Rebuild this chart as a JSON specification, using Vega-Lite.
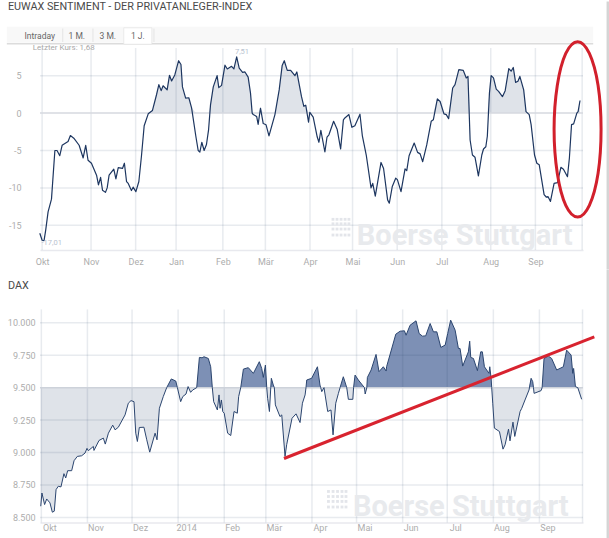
{
  "$schema": "https://vega.github.io/schema/vega-lite/v6.json",
  "padding": {"left": 3, "top": 0, "right": 0, "bottom": 0},
  "background": "white",
  "spacing": -2.6,
  "config": {
    "view": {"stroke": null},
    "font": "Roboto",
    "axis": {"title": null, "ticks": false, "domain": false, "grid": false, "labelColor": "#adadad", "labelFont": "Roboto", "labelFontSize": 9}
  },
  "datasets": {
    "sentiment": [
      {"t":-1.1,"v":-16.07},{"t":0,"v":-17},{"t":0.9,"v":-17.05},{"t":1.7,"v":-15.6},{"t":2.8,"v":-13.2},{"t":4.4,"v":-11.5},{"t":6,"v":-5},{"t":7,"v":-5},{"t":8.3,"v":-5.7},{"t":9.4,"v":-4.3},{"t":12.2,"v":-3.8},{"t":13.3,"v":-3},{"t":14.9,"v":-3.35},{"t":17.4,"v":-4.3},{"t":19.3,"v":-6},{"t":20.5,"v":-4.3},{"t":21.6,"v":-6.3},{"t":23.2,"v":-6.7},{"t":25.6,"v":-8.3},{"t":26.5,"v":-9.6},{"t":27.5,"v":-8.6},{"t":28.4,"v":-10.3},{"t":29.8,"v":-10.6},{"t":30.6,"v":-10},{"t":31.5,"v":-8.3},{"t":33.7,"v":-7.5},{"t":34.7,"v":-8.8},{"t":35.8,"v":-7.3},{"t":37.8,"v":-7.4},{"t":38.7,"v":-6.7},{"t":39.7,"v":-9.15},{"t":40.5,"v":-9.4},{"t":42,"v":-10.35},{"t":42.8,"v":-9.9},{"t":44.1,"v":-10.5},{"t":45.5,"v":-9.15},{"t":46.7,"v":-5.8},{"t":48,"v":-1.7},{"t":49.9,"v":-0.1},{"t":51.9,"v":0.35},{"t":53.8,"v":2.45},{"t":54.9,"v":3.8},{"t":56,"v":3},{"t":56.9,"v":3.65},{"t":58.8,"v":3.1},{"t":59.9,"v":5.05},{"t":60.9,"v":4.3},{"t":62.4,"v":5.1},{"t":64.2,"v":7},{"t":65.3,"v":6.5},{"t":66,"v":3.5},{"t":67.5,"v":2},{"t":69,"v":2.05},{"t":70.3,"v":0.7},{"t":72.3,"v":-3.1},{"t":73.4,"v":-5},{"t":74.2,"v":-5.2},{"t":75.1,"v":-3.9},{"t":76.2,"v":-5},{"t":77.3,"v":-4.2},{"t":78.3,"v":-2.2},{"t":79.2,"v":1.1},{"t":80.5,"v":3.5},{"t":82.3,"v":5},{"t":83.1,"v":3.4},{"t":84.4,"v":3.7},{"t":86,"v":6.4},{"t":87.1,"v":5.9},{"t":89.1,"v":6.25},{"t":90.2,"v":5.9},{"t":91.5,"v":7.51},{"t":92.7,"v":6},{"t":94.3,"v":5.45},{"t":95.4,"v":5.5},{"t":96.9,"v":4.8},{"t":98,"v":2.7},{"t":98.8,"v":0},{"t":99.3,"v":-0.2},{"t":100.9,"v":-0.45},{"t":101.6,"v":-1.5},{"t":102.7,"v":0.65},{"t":104,"v":-1.4},{"t":105.3,"v":-1.55},{"t":106.7,"v":-3.05},{"t":109.5,"v":-0.2},{"t":111.5,"v":3.1},{"t":112.9,"v":6.35},{"t":113.9,"v":7},{"t":115.3,"v":5.7},{"t":116.9,"v":5.7},{"t":118.9,"v":5},{"t":119.8,"v":5.5},{"t":122,"v":2.2},{"t":123.1,"v":0.9},{"t":124,"v":1.05},{"t":125.3,"v":-1.2},{"t":125.9,"v":0.1},{"t":127.5,"v":-0.55},{"t":129.4,"v":-3.2},{"t":130.2,"v":-3.9},{"t":131.1,"v":-2.3},{"t":133,"v":-5.2},{"t":134,"v":-3.2},{"t":134.9,"v":-2.9},{"t":137.1,"v":-1.1},{"t":138.8,"v":-2.2},{"t":140.4,"v":-4.8},{"t":141.7,"v":-0.9},{"t":142.4,"v":-0.65},{"t":144.3,"v":-0.2},{"t":145.7,"v":-1.9},{"t":147.1,"v":-1.7},{"t":149.5,"v":-0.15},{"t":150.6,"v":-3},{"t":152.5,"v":-5.7},{"t":154.7,"v":-10},{"t":155.5,"v":-9.4},{"t":156.7,"v":-11.1},{"t":159.4,"v":-6.6},{"t":160.6,"v":-7.4},{"t":162.5,"v":-11.6},{"t":163.3,"v":-12.05},{"t":164.7,"v":-9.8},{"t":166.3,"v":-8.7},{"t":167.1,"v":-8.9},{"t":168.8,"v":-10.5},{"t":170.7,"v":-7.45},{"t":171.5,"v":-7.7},{"t":172.6,"v":-5.7},{"t":175,"v":-4},{"t":176.6,"v":-5.25},{"t":177.8,"v":-5.45},{"t":179,"v":-6.5},{"t":180.9,"v":-4.25},{"t":183,"v":-1.1},{"t":184,"v":-0.9},{"t":185.9,"v":1.9},{"t":187.2,"v":1.55},{"t":189,"v":-0.1},{"t":190.1,"v":-0.2},{"t":191.2,"v":-0.75},{"t":193.1,"v":3.35},{"t":194.2,"v":3.8},{"t":196,"v":5.8},{"t":198.1,"v":5.7},{"t":199.5,"v":4.7},{"t":200.3,"v":4.9},{"t":201.3,"v":-3.6},{"t":202.4,"v":-5.6},{"t":203.6,"v":-5.9},{"t":205.2,"v":-8.4},{"t":206.8,"v":-5.6},{"t":207.6,"v":-4.8},{"t":208.7,"v":-4.5},{"t":209.4,"v":-3.1},{"t":210.4,"v":2.7},{"t":211.2,"v":5},{"t":212.3,"v":4.7},{"t":213.6,"v":3.2},{"t":214.7,"v":2.9},{"t":216.5,"v":2.2},{"t":217.8,"v":3},{"t":219.5,"v":5.95},{"t":220.6,"v":5.6},{"t":221.6,"v":6.1},{"t":222.7,"v":4.1},{"t":223.8,"v":4.25},{"t":224.7,"v":4.9},{"t":226.5,"v":3.1},{"t":227.6,"v":0.2},{"t":229.1,"v":-0.2},{"t":230,"v":-1.55},{"t":231.6,"v":-5.6},{"t":232.7,"v":-6.7},{"t":233.8,"v":-6.9},{"t":236.1,"v":-10.9},{"t":237.2,"v":-11.25},{"t":237.9,"v":-11.15},{"t":239.1,"v":-11.8},{"t":240.8,"v":-9.4},{"t":242.4,"v":-9.3},{"t":244,"v":-7.25},{"t":245.2,"v":-7.5},{"t":247.1,"v":-8.5},{"t":248,"v":-6},{"t":249,"v":-1.55},{"t":250,"v":-1.45},{"t":251.5,"v":0},{"t":252.1,"v":0.2},{"t":253,"v":1.68}
    ],
    "dax": [
      {"t":-0.4,"v":8586},{"t":0.4,"v":8688},{"t":2.2,"v":8599},{"t":3.6,"v":8642},{"t":5.8,"v":8612},{"t":7.4,"v":8540},{"t":8.7,"v":8548},{"t":9.9,"v":8714},{"t":11.4,"v":8740},{"t":13.2,"v":8735},{"t":15.2,"v":8837},{"t":16.4,"v":8804},{"t":17.7,"v":8860},{"t":20.4,"v":8860},{"t":22,"v":8937},{"t":24.2,"v":8970},{"t":27.1,"v":8975},{"t":29.4,"v":8996},{"t":30.7,"v":9032},{"t":31.6,"v":9014},{"t":35,"v":9047},{"t":35.4,"v":9016},{"t":38.8,"v":9093},{"t":41.7,"v":9111},{"t":43,"v":9065},{"t":45.1,"v":9149},{"t":48,"v":9211},{"t":49.6,"v":9175},{"t":51.8,"v":9195},{"t":56.3,"v":9290},{"t":58.5,"v":9380},{"t":60.3,"v":9400},{"t":62.3,"v":9392},{"t":63.5,"v":9149},{"t":64.6,"v":9085},{"t":65.9,"v":9193},{"t":69,"v":9195},{"t":70.9,"v":9098},{"t":72.9,"v":9003},{"t":76.5,"v":9149},{"t":77.8,"v":9098},{"t":79.4,"v":9341},{"t":82,"v":9431},{"t":84.3,"v":9500},{"t":87.4,"v":9567},{"t":90.4,"v":9551},{"t":91.5,"v":9500},{"t":93.7,"v":9392},{"t":95.1,"v":9431},{"t":97.3,"v":9451},{"t":98.7,"v":9508},{"t":100.4,"v":9464},{"t":101.8,"v":9482},{"t":104.5,"v":9500},{"t":106.3,"v":9733},{"t":108.1,"v":9730},{"t":109.4,"v":9738},{"t":112.3,"v":9725},{"t":113.9,"v":9661},{"t":115,"v":9500},{"t":115.9,"v":9392},{"t":118.4,"v":9328},{"t":119.5,"v":9444},{"t":120.2,"v":9341},{"t":121.1,"v":9405},{"t":122,"v":9316},{"t":123,"v":9303},{"t":125.3,"v":9149},{"t":127.4,"v":9131},{"t":129.6,"v":9316},{"t":131.8,"v":9303},{"t":132.7,"v":9431},{"t":134.1,"v":9500},{"t":135.9,"v":9643},{"t":139.2,"v":9654},{"t":142.6,"v":9610},{"t":146.6,"v":9700},{"t":148.2,"v":9648},{"t":149.3,"v":9579},{"t":150.7,"v":9674},{"t":151.6,"v":9500},{"t":152.2,"v":9418},{"t":153.4,"v":9316},{"t":154.3,"v":9500},{"t":154.7,"v":9572},{"t":156,"v":9520},{"t":156.7,"v":9500},{"t":157.4,"v":9367},{"t":160.5,"v":9277},{"t":161.7,"v":9290},{"t":163.9,"v":8970},{"t":165,"v":9060},{"t":168.6,"v":9264},{"t":171.3,"v":9298},{"t":174,"v":9231},{"t":175.6,"v":9380},{"t":177.4,"v":9444},{"t":178,"v":9500},{"t":178.5,"v":9559},{"t":181.8,"v":9572},{"t":185.7,"v":9661},{"t":187.4,"v":9520},{"t":187.9,"v":9500},{"t":188.6,"v":9469},{"t":190.1,"v":9500},{"t":192.6,"v":9316},{"t":194.8,"v":9328},{"t":196.2,"v":9136},{"t":198,"v":9380},{"t":199.8,"v":9456},{"t":200.9,"v":9500},{"t":203.1,"v":9584},{"t":205.4,"v":9500},{"t":206.5,"v":9410},{"t":209.5,"v":9410},{"t":210,"v":9500},{"t":211,"v":9597},{"t":213.2,"v":9559},{"t":217.3,"v":9500},{"t":217.8,"v":9451},{"t":218.9,"v":9500},{"t":219.3,"v":9579},{"t":221.8,"v":9636},{"t":225.1,"v":9756},{"t":227.1,"v":9623},{"t":230,"v":9661},{"t":231.9,"v":9628},{"t":232.2,"v":9661},{"t":238.4,"v":9912},{"t":241.3,"v":9935},{"t":244.2,"v":9938},{"t":245.3,"v":9904},{"t":248,"v":9981},{"t":252,"v":10015},{"t":254.1,"v":9917},{"t":256.3,"v":9897},{"t":258.5,"v":9899},{"t":261.5,"v":9994},{"t":263.7,"v":9930},{"t":266,"v":9930},{"t":268.7,"v":9810},{"t":271.6,"v":9828},{"t":273.3,"v":9917},{"t":275.3,"v":10020},{"t":278.3,"v":9943},{"t":280.5,"v":9802},{"t":281.6,"v":9802},{"t":283.4,"v":9666},{"t":287.2,"v":9776},{"t":288.1,"v":9858},{"t":288.8,"v":9733},{"t":290.6,"v":9725},{"t":293.3,"v":9631},{"t":295.5,"v":9776},{"t":296.6,"v":9776},{"t":298,"v":9661},{"t":301.1,"v":9610},{"t":301.6,"v":9661},{"t":302.5,"v":9572},{"t":302.9,"v":9500},{"t":303.6,"v":9380},{"t":304.7,"v":9188},{"t":308.1,"v":9162},{"t":310.5,"v":9026},{"t":311.9,"v":9060},{"t":314.2,"v":9180},{"t":315.2,"v":9090},{"t":317.2,"v":9234},{"t":318.4,"v":9124},{"t":322,"v":9316},{"t":323.1,"v":9341},{"t":325.3,"v":9405},{"t":328,"v":9482},{"t":329.4,"v":9572},{"t":330.5,"v":9546},{"t":331,"v":9500},{"t":331.4,"v":9456},{"t":336.1,"v":9477},{"t":336.8,"v":9500},{"t":338.1,"v":9725},{"t":341,"v":9743},{"t":343.2,"v":9725},{"t":346.6,"v":9636},{"t":351.1,"v":9661},{"t":353.3,"v":9789},{"t":356.3,"v":9751},{"t":357.4,"v":9610},{"t":358,"v":9648},{"t":359.2,"v":9508},{"t":360.8,"v":9500},{"t":363.4,"v":9410}
    ]
  },
  "vconcat": [
    {
      "width": 543,
      "height": 202,
      "data": {"name": "sentiment"},
      "encoding": {
        "x": {
          "field": "t",
          "type": "quantitative",
          "scale": {"domain": [-1, 254.4], "nice": false, "zero": false},
          "axis": {
            "values": [0, 23, 44, 63, 85, 105, 126, 146, 167, 188, 211, 232],
            "labelExpr": "{'0':'Okt','23':'Nov','44':'Dez','63':'Jan','85':'Feb','105':'Mär','126':'Apr','146':'Mai','167':'Jun','188':'Jul','211':'Aug','232':'Sep'}[datum.value]",
            "labelPadding": 7,
            "labelFlush": false,
            "domain": true,
            "domainColor": "#e8e9ee",
            "domainWidth": 1.5
          }
        }
      },
      "layer": [
        {
          "mark": {"type": "area", "color": "#1f3a63", "opacity": 0.14},
          "encoding": {
            "y": {"field": "v", "type": "quantitative", "stack": null, "scale": {"domain": [0, 8.7], "range": [65.1, 0], "clamp": true, "nice": false, "zero": false}, "axis": null},
            "y2": {"datum": 0}
          }
        },
        {
          "encoding": {
            "y": {
              "field": "v",
              "type": "quantitative",
              "scale": {"domain": [-18.3, 8.7], "nice": false, "zero": false},
              "axis": {"values": [-15, -10, -5, 0, 5], "labelExpr": "'' + datum.value", "labelPadding": 19}
            }
          },
          "layer": [
            {
              "data": {"values": [{"t": 266.05, "v": -20.87, "v2": 14.93}]},
              "mark": {"type": "rule", "color": "#d4d4d4", "strokeWidth": 2.4},
              "encoding": {"y2": {"field": "v2"}}
            },
            {
              "data": {"values": [
                {"t": 0, "v": -18.3, "v2": 8.7}, {"t": 23, "v": -18.3, "v2": 8.7}, {"t": 44, "v": -18.3, "v2": 8.7}, {"t": 63, "v": -18.3, "v2": 8.7},
                {"t": 85, "v": -18.3, "v2": 8.7}, {"t": 105, "v": -18.3, "v2": 8.7}, {"t": 126, "v": -18.3, "v2": 8.7}, {"t": 146, "v": -18.3, "v2": 8.7},
                {"t": 167, "v": -18.3, "v2": 8.7}, {"t": 188, "v": -18.3, "v2": 8.7}, {"t": 211, "v": -18.3, "v2": 8.7}, {"t": 232, "v": -18.3, "v2": 8.7},
                {"t": 254, "v": -18.3, "v2": 8.7}
              ]},
              "mark": {"type": "rule", "color": "#1f3a63", "opacity": 0.1, "strokeWidth": 1.5},
              "encoding": {"y2": {"field": "v2"}}
            },
            {
              "data": {"values": [
                {"t": -1, "t2": 254.4, "v": -15}, {"t": -1, "t2": 254.4, "v": -10}, {"t": -1, "t2": 254.4, "v": -5}, {"t": -1, "t2": 254.4, "v": 5}
              ]},
              "mark": {"type": "rule", "color": "#1f3a63", "opacity": 0.1, "strokeWidth": 1.5},
              "encoding": {"x2": {"field": "t2"}}
            },
            {
              "data": {"values": [{"t": -1, "v": 0}, {"t": 254.4, "v": 0}]},
              "mark": {"type": "line", "color": "#d6d9df", "strokeWidth": 1.5}
            },
            {
              "mark": {"type": "line", "color": "#1d3660", "strokeWidth": 1.2, "strokeJoin": "round"}
            },
            {
              "data": {"values": [
                {"t": 136.8, "v": -14.2}, {"t": 138.7, "v": -14.2}, {"t": 140.6, "v": -14.2}, {"t": 142.5, "v": -14.2}, {"t": 144.3, "v": -14.2},
                {"t": 136.8, "v": -14.8}, {"t": 138.7, "v": -14.8}, {"t": 140.6, "v": -14.8}, {"t": 142.5, "v": -14.8}, {"t": 144.3, "v": -14.8},
                {"t": 136.8, "v": -15.5}, {"t": 138.7, "v": -15.5}, {"t": 140.6, "v": -15.5}, {"t": 142.5, "v": -15.5}, {"t": 144.3, "v": -15.5},
                {"t": 136.8, "v": -16.3}, {"t": 138.7, "v": -16.3}, {"t": 140.6, "v": -16.3}, {"t": 142.5, "v": -16.3}, {"t": 144.3, "v": -16.3}
              ]},
              "mark": {"type": "square", "color": "#e3e5ea", "opacity": 1, "size": 8}
            },
            {
              "data": {"values": [{"t": 148, "v": -17.6, "label": "Boerse Stuttgart"}]},
              "mark": {"type": "text", "align": "left", "baseline": "alphabetic", "font": "Roboto", "fontWeight": "bold", "fontSize": 29, "color": "#e8eaed"},
              "encoding": {"text": {"field": "label"}}
            },
            {
              "data": {"values": [{"t": -16.6, "t2": 259.2, "v": 11.55, "v2": 9.41}]},
              "mark": {"type": "rect", "color": "#f8f8f8"},
              "encoding": {"x2": {"field": "t2"}, "y2": {"field": "v2"}}
            },
            {
              "data": {"values": [{"t": -16.6, "v": 9.28}, {"t": 259.2, "v": 9.28}]},
              "mark": {"type": "line", "color": "#dcdcdc", "strokeWidth": 1.5}
            },
            {
              "data": {"values": [{"t": 38.4, "t2": 51.6, "v": 11.4, "v2": 9.2}]},
              "mark": {"type": "rect", "color": "white", "stroke": "#e4e4e4", "strokeWidth": 0.7},
              "encoding": {"x2": {"field": "t2"}, "y2": {"field": "v2"}}
            },
            {
              "data": {"values": [{"t": 9.7, "v": 11.3, "v2": 9.5}, {"t": 23.9, "v": 11.3, "v2": 9.5}, {"t": 52.6, "v": 11.3, "v2": 9.5}]},
              "mark": {"type": "rule", "color": "#e4e4e4", "strokeWidth": 1},
              "encoding": {"y2": {"field": "v2"}}
            },
            {
              "data": {"values": [
                {"t": -1.1, "v": 10.35, "label": "Intraday"},
                {"t": 16.3, "v": 10.35, "label": "1 M."},
                {"t": 30.9, "v": 10.35, "label": "3 M."},
                {"t": 45, "v": 10.35, "label": "1 J."}
              ]},
              "mark": {"type": "text", "font": "Roboto", "fontSize": 8.5, "color": "#666666"},
              "encoding": {"text": {"field": "label"}}
            },
            {
              "data": {"values": [{"t": -16.1, "v": 14.2, "label": "EUWAX SENTIMENT - DER PRIVATANLEGER-INDEX"}]},
              "mark": {"type": "text", "align": "left", "font": "Roboto", "fontSize": 10.8, "color": "#4a4a4a"},
              "encoding": {"text": {"field": "label"}}
            },
            {
              "data": {"values": [{"t": -4.4, "v": 8.74, "label": "Letzter Kurs: 1,68"}]},
              "mark": {"type": "text", "align": "left", "font": "Roboto", "fontSize": 8, "color": "#a8a8a8"},
              "encoding": {"text": {"field": "label"}}
            },
            {
              "data": {"values": [{"t": 94, "v": 8.2, "label": "7,51"}, {"t": 4.5, "v": -17.36, "label": "-17,01"}]},
              "mark": {"type": "text", "font": "Roboto", "fontSize": 7.5, "color": "#b9c3cf"},
              "encoding": {"text": {"field": "label"}}
            },
            {
              "data": {"values": [
                {"n": 1, "t": 251.9, "v": 9.55}, {"n": 2, "t": 257.4, "v": 7.98}, {"n": 3, "t": 261.5, "v": 3.69}, {"n": 4, "t": 262.9, "v": -2.17},
                {"n": 5, "t": 261.5, "v": -8.03}, {"n": 6, "t": 257.4, "v": -12.32}, {"n": 7, "t": 251.9, "v": -13.88}, {"n": 8, "t": 246.3, "v": -12.32},
                {"n": 9, "t": 242.3, "v": -8.03}, {"n": 10, "t": 240.8, "v": -2.17}, {"n": 11, "t": 242.3, "v": 3.69}, {"n": 12, "t": 246.3, "v": 7.98}
              ]},
              "mark": {"type": "line", "interpolate": "cardinal-closed", "color": "#d2202c", "strokeWidth": 3},
              "encoding": {"order": {"field": "n", "type": "quantitative"}}
            }
          ]
        }
      ],
      "resolve": {"scale": {"y": "independent"}}
    },
    {
      "width": 543,
      "height": 213,
      "data": {"name": "dax"},
      "encoding": {
        "x": {
          "field": "t",
          "type": "quantitative",
          "scale": {"domain": [-0.9, 364.3], "nice": false, "zero": false},
          "axis": {
            "values": [0, 31, 61, 92, 123, 151, 182, 212, 243, 273, 304, 335],
            "labelExpr": "{'0':'Okt','31':'Nov','61':'Dez','92':'2014','123':'Feb','151':'Mär','182':'Apr','212':'Mai','243':'Jun','273':'Jul','304':'Aug','335':'Sep'}[datum.value]",
            "labelOffset": 8,
            "labelPadding": 1,
            "labelFlush": false,
            "domain": true,
            "domainColor": "#e8e9ee",
            "domainWidth": 1.5
          }
        }
      },
      "layer": [
        {
          "mark": {"type": "area", "color": "#1f3a63", "opacity": 0.14},
          "encoding": {
            "y": {"field": "v", "type": "quantitative", "stack": null, "scale": {"domain": [8461.5, 9500], "range": [213, 78.3], "clamp": true, "nice": false, "zero": false}, "axis": null},
            "y2": {"datum": 9500}
          }
        },
        {
          "mark": {"type": "area", "color": "#1f4080", "opacity": 0.58},
          "encoding": {
            "y": {"field": "v", "type": "quantitative", "stack": null, "scale": {"domain": [9500, 10103], "range": [78.3, 0], "clamp": true, "nice": false, "zero": false}, "axis": null},
            "y2": {"datum": 9500}
          }
        },
        {
          "encoding": {
            "y": {
              "field": "v",
              "type": "quantitative",
              "scale": {"domain": [8461.5, 10103], "nice": false, "zero": false},
              "axis": {"values": [8500, 8750, 9000, 9250, 9500, 9750, 10000], "labelExpr": "replace(format(datum.value, ',d'), ',', '.')", "labelPadding": 5}
            }
          },
          "layer": [
            {
              "data": {"values": [{"t": 380.95, "v": 8340.5, "v2": 10409.6}]},
              "mark": {"type": "rule", "color": "#d4d4d4", "strokeWidth": 2.4},
              "encoding": {"y2": {"field": "v2"}}
            },
            {
              "data": {"values": [
                {"t": 0, "v": 8461.5, "v2": 10103}, {"t": 31, "v": 8461.5, "v2": 10103}, {"t": 61, "v": 8461.5, "v2": 10103}, {"t": 92, "v": 8461.5, "v2": 10103},
                {"t": 123, "v": 8461.5, "v2": 10103}, {"t": 151, "v": 8461.5, "v2": 10103}, {"t": 182, "v": 8461.5, "v2": 10103}, {"t": 212, "v": 8461.5, "v2": 10103},
                {"t": 243, "v": 8461.5, "v2": 10103}, {"t": 273, "v": 8461.5, "v2": 10103}, {"t": 304, "v": 8461.5, "v2": 10103}, {"t": 335, "v": 8461.5, "v2": 10103},
                {"t": 364, "v": 8461.5, "v2": 10103}
              ]},
              "mark": {"type": "rule", "color": "#1f3a63", "opacity": 0.1, "strokeWidth": 1.5},
              "encoding": {"y2": {"field": "v2"}}
            },
            {
              "data": {"values": [
                {"t": -0.9, "t2": 364.3, "v": 8500}, {"t": -0.9, "t2": 364.3, "v": 8750}, {"t": -0.9, "t2": 364.3, "v": 9000}, {"t": -0.9, "t2": 364.3, "v": 9250},
                {"t": -0.9, "t2": 364.3, "v": 9750}, {"t": -0.9, "t2": 364.3, "v": 10000}
              ]},
              "mark": {"type": "rule", "color": "#1f3a63", "opacity": 0.1, "strokeWidth": 1.5},
              "encoding": {"x2": {"field": "t2"}}
            },
            {
              "data": {"values": [{"t": -0.9, "v": 9500}, {"t": 364.3, "v": 9500}]},
              "mark": {"type": "line", "color": "#cdd2da", "strokeWidth": 1.5}
            },
            {
              "mark": {"type": "line", "color": "#2b456f", "strokeWidth": 1, "strokeJoin": "round"}
            },
            {
              "data": {"values": [
                {"t": 193.1, "v": 8700}, {"t": 196.2, "v": 8700}, {"t": 199.2, "v": 8700}, {"t": 202.2, "v": 8700}, {"t": 204.9, "v": 8700},
                {"t": 193.1, "v": 8661}, {"t": 196.2, "v": 8661}, {"t": 199.2, "v": 8661}, {"t": 202.2, "v": 8661}, {"t": 204.9, "v": 8661},
                {"t": 193.1, "v": 8623}, {"t": 196.2, "v": 8623}, {"t": 199.2, "v": 8623}, {"t": 202.2, "v": 8623}, {"t": 204.9, "v": 8623},
                {"t": 193.1, "v": 8580}, {"t": 196.2, "v": 8580}, {"t": 199.2, "v": 8580}, {"t": 202.2, "v": 8580}, {"t": 204.9, "v": 8580}
              ]},
              "mark": {"type": "square", "color": "#e3e5ea", "opacity": 1, "size": 8}
            },
            {
              "data": {"values": [{"t": 209.6, "v": 8513, "label": "Boerse Stuttgart"}]},
              "mark": {"type": "text", "align": "left", "baseline": "alphabetic", "font": "Roboto", "fontWeight": "bold", "fontSize": 29, "color": "#e8eaed"},
              "encoding": {"text": {"field": "label"}}
            },
            {
              "data": {"values": [{"t": 163.2, "v": 8954}, {"t": 371.9, "v": 9892}]},
              "mark": {"type": "line", "color": "#d8232f", "strokeWidth": 3}
            },
            {
              "data": {"values": [{"t": -22.4, "v": 10282, "label": "DAX"}]},
              "mark": {"type": "text", "align": "left", "font": "Roboto", "fontSize": 10.8, "color": "#4a4a4a"},
              "encoding": {"text": {"field": "label"}}
            }
          ]
        }
      ],
      "resolve": {"scale": {"y": "independent"}}
    }
  ]
}
